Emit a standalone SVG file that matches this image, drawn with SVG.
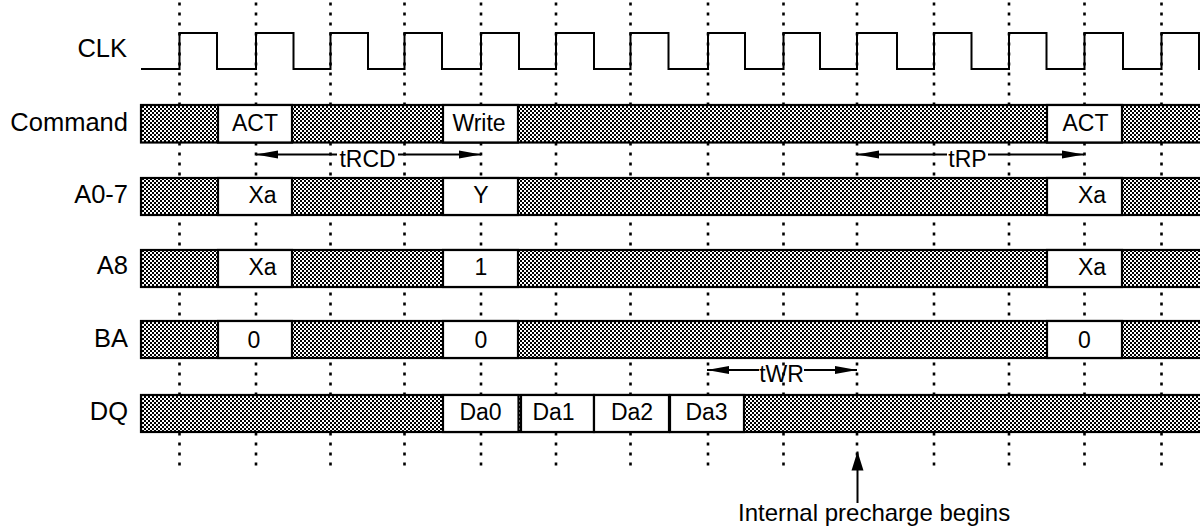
<svg xmlns="http://www.w3.org/2000/svg" width="1200" height="527" viewBox="0 0 1200 527">
<style>
.lbl{font-family:"Liberation Sans",Arial,sans-serif;font-size:25.5px;fill:#000;text-anchor:end}
.bt{font-family:"Liberation Sans",Arial,sans-serif;font-size:23px;fill:#000;text-anchor:middle}
.note{font-family:"Liberation Sans",Arial,sans-serif;font-size:24px;fill:#000}
.grid{stroke:#000;stroke-width:2.6;stroke-dasharray:3 7;fill:none}
.bar{fill:url(#hatch);stroke:#000;stroke-width:2.2}
.box{fill:#fff;stroke:#000;stroke-width:2.2}
.wire{stroke:#000;stroke-width:2;fill:none}
</style>
<defs>
<pattern id="hatch" width="4" height="4" patternUnits="userSpaceOnUse">
<rect width="4" height="4" fill="#fff"/>
<rect x="0" y="0" width="2" height="2" fill="#000"/>
<rect x="2" y="2" width="2" height="2" fill="#000"/>
</pattern>
<marker id="ah" viewBox="0 -5 22 10" refX="22" refY="0" markerWidth="22" markerHeight="10" markerUnits="userSpaceOnUse" orient="auto">
<path d="M0,-4 L22,0 L0,4 z" fill="#000"/>
</marker>
<marker id="ahv" viewBox="0 -6.5 19 13" refX="19" refY="0" markerWidth="19" markerHeight="13" markerUnits="userSpaceOnUse" orient="auto">
<path d="M0,-6 L19,0 L0,6 z" fill="#000"/>
</marker>
</defs>
<rect width="1200" height="527" fill="#fff"/>

<g id="gridlines">
<path class="grid" d="M179.5,2.5V468M256,2.5V468M330.5,2.5V468M404.5,2.5V468M481,2.5V468M556,2.5V468M630.5,2.5V468M708,2.5V468M783.5,2.5V468M857,2.5V468M934,2.5V468M1009,2.5V468M1084.5,2.5V468M1161.5,2.5V468"/>
</g>

<g id="clk">
<text class="lbl" x="127" y="57">CLK</text>
<path class="wire" d="M141,69 H179.5 V33 H217 V69 H256 V33 H293.5 V69 H330.5 V33 H368 V69 H404.5 V33 H442 V69 H481 V33 H519 V69 H556 V33 H594 V69 H630.5 V33 H668.5 V69 H708 V33 H745 V69 H783.5 V33 H820 V69 H857 V33 H897 V69 H934 V33 H971.5 V69 H1009 V33 H1046.5 V69 H1084.5 V33 H1123 V69 H1161.5 V33 H1199 V69 H1205"/>
</g>

<g id="command">
<text class="lbl" x="128" y="131">Command</text>
<rect class="bar" x="141" y="105" width="1070" height="37.5"/>
<rect class="box" x="218" y="105" width="74" height="37.5"/>
<text class="bt" x="255" y="131">ACT</text>
<rect class="box" x="443" y="105" width="75" height="37.5"/>
<text class="bt" x="479" y="131">Write</text>
<rect class="box" x="1047" y="105" width="75" height="37.5"/>
<text class="bt" x="1085.5" y="131">ACT</text>
</g>

<g id="a07">
<text class="lbl" x="128" y="203">A0-7</text>
<rect class="bar" x="141" y="178" width="1070" height="37"/>
<rect class="box" x="218" y="178" width="74" height="37"/>
<text class="bt" x="262.5" y="203">Xa</text>
<rect class="box" x="443" y="178" width="75" height="37"/>
<text class="bt" x="481" y="203">Y</text>
<rect class="box" x="1047" y="178" width="75" height="37"/>
<text class="bt" x="1092" y="203">Xa</text>
</g>

<g id="a8">
<text class="lbl" x="128" y="274">A8</text>
<rect class="bar" x="141" y="250" width="1070" height="37"/>
<rect class="box" x="218" y="250" width="74" height="37"/>
<text class="bt" x="262.5" y="275">Xa</text>
<rect class="box" x="443" y="250" width="75" height="37"/>
<text class="bt" x="481" y="275">1</text>
<rect class="box" x="1047" y="250" width="75" height="37"/>
<text class="bt" x="1092" y="275">Xa</text>
</g>

<g id="ba">
<text class="lbl" x="128" y="347">BA</text>
<rect class="bar" x="141" y="321" width="1070" height="37"/>
<rect class="box" x="218" y="321" width="74" height="37"/>
<text class="bt" x="254" y="347.5">0</text>
<rect class="box" x="443" y="321" width="75" height="37"/>
<text class="bt" x="481" y="347.5">0</text>
<rect class="box" x="1047" y="321" width="75" height="37"/>
<text class="bt" x="1084.5" y="347.5">0</text>
</g>

<g id="dq">
<text class="lbl" x="128" y="420">DQ</text>
<rect class="bar" x="141" y="395" width="1070" height="37"/>
<rect class="box" x="443" y="395" width="75.5" height="37"/>
<text class="bt" x="480.5" y="419.5">Da0</text>
<rect class="box" x="521" y="395" width="73" height="37"/>
<text class="bt" x="553.5" y="419.5">Da1</text>
<rect class="box" x="594" y="395" width="75" height="37"/>
<text class="bt" x="632" y="419.5">Da2</text>
<rect class="box" x="670" y="395" width="74" height="37"/>
<text class="bt" x="706.5" y="419.5">Da3</text>
</g>

<g id="connectors">
<line class="wire" x1="337" y1="154.5" x2="256" y2="154.5" marker-end="url(#ah)"/>
<line class="wire" x1="398" y1="154.5" x2="481" y2="154.5" marker-end="url(#ah)"/>
<line class="wire" x1="947" y1="154.5" x2="857" y2="154.5" marker-end="url(#ah)"/>
<line class="wire" x1="988" y1="154.5" x2="1084" y2="154.5" marker-end="url(#ah)"/>
<line class="wire" x1="759" y1="370" x2="707" y2="370" marker-end="url(#ah)"/>
<line class="wire" x1="804" y1="370" x2="857" y2="370" marker-end="url(#ah)"/>
<line class="wire" x1="857.5" y1="503" x2="857.5" y2="451.5" marker-end="url(#ahv)"/>
</g>

<g id="labels">
<text class="bt" x="367.5" y="166.5">tRCD</text>
<text class="bt" x="967.5" y="166.5">tRP</text>
<text class="bt" x="781.5" y="381.5">tWR</text>
<text class="note" x="738" y="521">Internal precharge begins</text>
</g>
</svg>
